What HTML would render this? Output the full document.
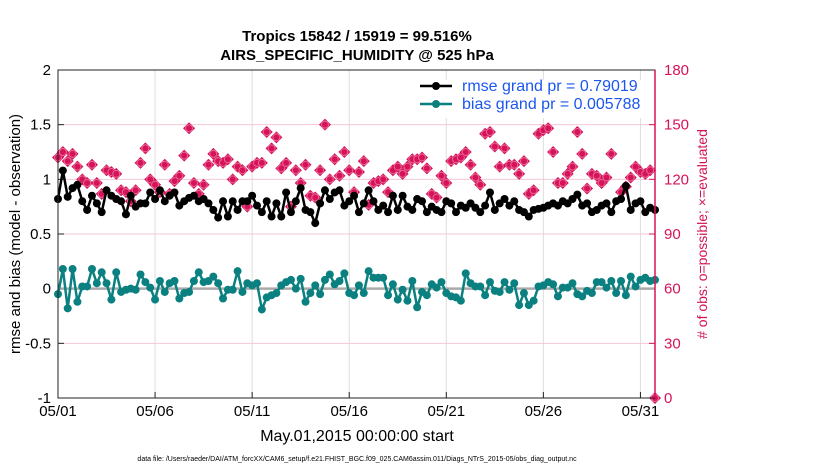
<!DOCTYPE html>
<html><head><meta charset="utf-8"><style>
body{margin:0;background:#fff;}
svg text{font-family:"Liberation Sans",Arial,sans-serif;}
</style></head><body>
<svg id="c" width="830" height="470" xmlns="http://www.w3.org/2000/svg"></svg>
<script>
const tickDays=[0,5,10,15,20,25,30];
const tickLabels=["05/01","05/06","05/11","05/16","05/21","05/26","05/31"];
const leftTicks=[-1,-0.5,0,0.5,1,1.5,2];
const leftTickLabels=["-1","-0.5","0","0.5","1","1.5","2"];
const rightTicks=[0,30,60,90,120,150,180];
const rmse=[0.82,1.08,0.84,0.92,0.95,0.80,0.72,0.85,0.78,0.70,0.90,0.85,0.82,0.80,0.68,0.85,
0.75,0.78,0.78,0.88,0.82,0.90,0.80,0.85,0.88,0.76,0.80,0.83,0.85,0.80,0.82,0.78,
0.72,0.65,0.80,0.66,0.80,0.72,0.80,0.80,0.85,0.76,0.70,0.80,0.66,0.78,0.66,0.88,
0.70,0.80,0.92,0.72,0.70,0.60,0.78,0.90,0.82,0.88,0.90,0.76,0.80,0.85,0.70,0.78,
0.90,0.80,0.72,0.76,0.70,0.85,0.72,0.85,0.75,0.72,0.82,0.80,0.70,0.75,0.72,0.70,
0.80,0.78,0.70,0.76,0.74,0.78,0.74,0.70,0.76,0.88,0.72,0.78,0.82,0.76,0.80,0.72,
0.70,0.66,0.72,0.73,0.74,0.76,0.78,0.76,0.80,0.78,0.82,0.86,0.76,0.78,0.70,0.72,
0.76,0.78,0.70,0.80,0.82,0.94,0.72,0.78,0.80,0.70,0.74,0.72];
const bias=[-0.05,0.18,-0.18,0.18,-0.12,0.02,0.02,0.18,0.05,0.15,0.05,-0.10,0.15,-0.03,-0.01,0.00,
-0.01,0.13,0.06,0.01,-0.10,0.07,-0.03,0.05,0.07,-0.09,-0.04,-0.03,0.07,0.15,0.06,0.07,
0.11,0.05,-0.09,-0.01,-0.01,0.16,-0.03,0.05,0.03,0.05,-0.19,-0.08,-0.06,-0.04,0.03,0.06,
0.08,0.00,0.09,-0.12,-0.04,0.03,-0.05,0.08,0.13,0.04,0.07,0.14,-0.04,-0.06,0.03,-0.04,
0.16,0.10,0.10,0.10,-0.06,0.04,-0.10,-0.01,-0.11,0.07,-0.17,-0.03,-0.06,0.04,0.01,0.06,
-0.04,-0.07,-0.08,-0.11,0.14,0.05,0.02,0.02,-0.06,0.06,-0.02,-0.03,0.06,-0.01,0.05,-0.15,
-0.04,-0.15,-0.11,0.02,0.03,0.06,0.04,-0.07,0.01,0.01,0.05,-0.05,-0.07,-0.02,-0.04,0.06,
0.06,0.01,0.07,-0.04,0.07,-0.06,0.11,0.02,0.08,0.10,0.07,0.08];
const obs=[132,135,130,134,127,120,118,128,118,112,125,124,123,114,113,108,
114,129,137,120,117,113,128,112,119,122,133,148,118,112,117,128,
134,130,129,131,120,127,125,105,127,129,129,146,137,143,126,129,
105,125,118,128,111,110,125,150,120,131,122,135,125,113,124,130,
106,118,119,120,113,125,127,123,127,131,131,132,126,112,110,122,
118,130,131,132,135,128,121,117,145,146,138,127,137,128,128,123,
130,112,114,145,147,148,135,118,118,123,127,146,134,115,123,122,
118,121,134,160,113,116,121,127,124,123,125,0];
const X0=58,X1=655,Y0=70,Y1=398;
const ns="http://www.w3.org/2000/svg",svg=document.getElementById('c');
const N=rmse.length,dt=0.25;
function xs(d){return X0+d*(597/(dt*(N-1)));}
function yl(v){return Y1-(v+1)/3*(Y1-Y0);}
function yr(c){return Y1-c/180*(Y1-Y0);}
function mk(t,a,p){const e=document.createElementNS(ns,t);for(const k in a)e.setAttribute(k,a[k]);(p||svg).appendChild(e);return e;}
mk('rect',{x:X0,y:Y0,width:X1-X0,height:Y1-Y0,fill:'#fff'});
tickDays.forEach((d,i)=>{const l=mk('line',{x1:xs(d),x2:xs(d),y1:Y0,y2:Y1,stroke:'#ddd','stroke-width':1});

const t=mk('text',{x:xs(d),y:Y1+18,'font-size':15,'text-anchor':'middle'});t.textContent=tickLabels[i];

mk('line',{x1:xs(d),x2:xs(d),y1:Y1,y2:Y1-6,stroke:'#222'});});
leftTicks.forEach((v,i)=>{if(v>-1&&v<2&&v!==0){const l=mk('line',{x1:X0,x2:X1,y1:yl(v),y2:yl(v),stroke:'#f5c6d6','stroke-width':1});
}
const t=mk('text',{x:X0-7,y:yl(v)+5,'font-size':15,'text-anchor':'end'});t.textContent=leftTickLabels[i];

mk('line',{x1:X0,x2:X0+6,y1:yl(v),y2:yl(v),stroke:'#222'});});
rightTicks.forEach(c=>{const t=mk('text',{x:X1+9,y:yr(c)+5,'font-size':15,fill:'#d6135a'});t.textContent=c;

mk('line',{x1:X1,x2:X1-6,y1:yr(c),y2:yr(c),stroke:'#d6135a'});});
mk('line',{x1:X0,x2:X1,y1:yl(0),y2:yl(0),stroke:'#aaa','stroke-width':2.5});
obs.forEach((c,i)=>{const g=mk('g',{});
const x=xs(i*dt),y=yr(c);mk('path',{d:`M${x-6} ${y}L${x} ${y-6}L${x+6} ${y}L${x} ${y+6}Z`,fill:'#d6135a'},g);
mk('circle',{cx:x,cy:y,r:3.5,fill:'none',stroke:'#e86a96','stroke-width':1},g);});
function series(arr,col,name){const p=arr.map((v,i)=>`${xs(i*dt).toFixed(1)},${yl(v).toFixed(1)}`).join(' ');
const l=mk('polyline',{points:p,fill:'none',stroke:col,'stroke-width':2.5});

arr.forEach((v,i)=>{const c=mk('circle',{cx:xs(i*dt),cy:yl(v),r:4,fill:col});
});}
series(rmse,'#000','rmse');series(bias,'#0a8080','bias');
mk('rect',{x:X0,y:Y0,width:X1-X0,height:Y1-Y0,fill:'none',stroke:'#222','stroke-width':1});
mk('line',{x1:X1,x2:X1,y1:Y0,y2:Y1,stroke:'#d6135a','stroke-width':1.5});
const lg=mk('g',{});
mk('rect',{x:416,y:80,width:230,height:38,fill:'#fff'},lg);
[['rmse grand pr = 0.79019','#000',91],['bias grand pr = 0.005788','#0a8080',109]].forEach(([s,c,y])=>{
mk('line',{x1:420,x2:452,y1:y-5,y2:y-5,stroke:c,'stroke-width':2.5},lg);mk('circle',{cx:436,cy:y-5,r:4,fill:c},lg);
const t=mk('text',{x:462,y:y,'font-size':16,fill:'#1a56f0'},lg);t.textContent=s;
});
function txt(s,a,name){const t=mk('text',a);t.textContent=s;return t;}
txt('Tropics 15842 / 15919 = 99.516%',{x:357,y:41,'font-size':15,'font-weight':'bold','text-anchor':'middle'},'chart-title');
txt('AIRS_SPECIFIC_HUMIDITY @ 525 hPa',{x:357,y:60,'font-size':15,'font-weight':'bold','text-anchor':'middle'},'chart-subtitle');
txt('May.01,2015 00:00:00 start',{x:357,y:441,'font-size':16,'text-anchor':'middle'},'x-axis-title');
txt('rmse and bias (model - observation)',{x:0,y:0,'font-size':15,'text-anchor':'middle',transform:`translate(20,${(Y0+Y1)/2}) rotate(-90)`},'y-left-axis-title');
txt('# of obs: o=possible; \u00D7=evaluated',{x:0,y:0,'font-size':14,'text-anchor':'middle',fill:'#d6135a',transform:`translate(707,${(Y0+Y1)/2}) rotate(-90)`},'y-right-axis-title');
txt('data file: /Users/raeder/DAI/ATM_forcXX/CAM6_setup/f.e21.FHIST_BGC.f09_025.CAM6assim.011/Diags_NTrS_2015-05/obs_diag_output.nc',{x:357,y:461,'font-size':7,'text-anchor':'middle'},'data-file-note');
</script></body></html>
